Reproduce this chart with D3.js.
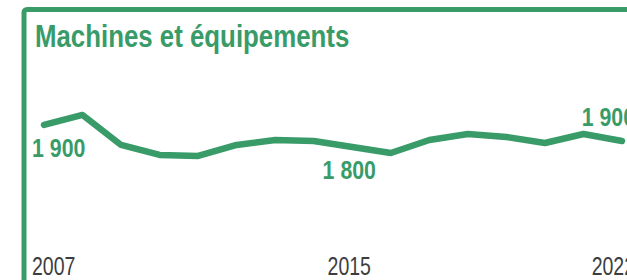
<!DOCTYPE html>
<html>
<head>
<meta charset="utf-8">
<script src="https://cdn.jsdelivr.net/npm/d3@7"></script>
<style>
  body { margin: 0; background: #fff; }
  svg { display: block; }
</style>
</head>
<body>
<svg id="chart" width="627" height="280"></svg>
<script>
// values (employment, approx.)
var years = [2007, 2008, 2009, 2010, 2011, 2012, 2013, 2014, 2015, 2016, 2017, 2018, 2019, 2020, 2021, 2022];
var values = [1903, 1933, 1843, 1813, 1810, 1843, 1858, 1855, 1837, 1819, 1858, 1876, 1867, 1849, 1876, 1855];

// years that get a tick label and a value label
var labelYears = [2007, 2015, 2022];
var labelAnchors = ["start", "middle", "end"];

var title = "Machines et équipements";
var green = "#389b68";
var narrow = 0.82; // no narrow font installed, squeeze Liberation Sans instead

var svg = d3.select("#chart");

// frame (only top and left edges show, rest is cropped)
svg.append("rect")
    .attr("x", 24).attr("y", 9.5)
    .attr("width", 800).attr("height", 400)
    .attr("rx", 3)
    .attr("fill", "none")
    .attr("stroke", green)
    .attr("stroke-width", 5);

svg.append("text")
    .attr("transform", "translate(35,47) scale(" + narrow + ",1)")
    .attr("fill", green)
    .style("font-family", "'Liberation Sans', Arial, sans-serif")
    .style("font-weight", "bold")
    .style("font-size", "31.5px")
    .text(title);

var x = d3.scaleLinear()
    .domain([2007, 2022])
    .range([44, 622]);

var y = d3.scaleLinear()
    .domain([1800, 1950])
    .range([159.3, 109.3]);

var line = d3.line()
    .x(function(d, i){ return x(years[i]); })
    .y(function(d){ return y(d); });

svg.append("path")
    .datum(values)
    .attr("d", line)
    .attr("fill", "none")
    .attr("stroke", green)
    .attr("stroke-width", 6.5)
    .attr("stroke-linecap", "round")
    .attr("stroke-linejoin", "round");

// shift labels so first is left aligned, last right aligned
function labelX(yr, i){
    if (labelAnchors[i] == "start") return x(yr) - 12;
    if (labelAnchors[i] == "end") return x(yr) + 13;
    return x(yr) - 3;
}

var fr = d3.formatLocale({decimal: ",", thousands: " ", grouping: [3], currency: ["", " €"]});
var fmt = fr.format(",");

// value labels, rounded to the hundred
svg.append("g").selectAll("text")
    .data(labelYears)
    .enter().append("text")
    .attr("transform", function(d, i){
        var v = values[years.indexOf(d)];
        var ty = i == 2 ? y(v) - 15 : y(v) + 32;
        return "translate(" + labelX(d, i) + "," + ty + ") scale(" + narrow + ",1)";
    })
    .attr("text-anchor", function(d, i){ return labelAnchors[i]; })
    .attr("fill", green)
    .style("font-family", "'Liberation Sans', Arial, sans-serif")
    .style("font-weight", "bold")
    .style("font-size", "26px")
    .text(function(d){
        var v = values[years.indexOf(d)];
        return fmt(Math.round(v / 100) * 100);
    });

// year tick labels
svg.append("g").selectAll("text")
    .data(labelYears)
    .enter().append("text")
    .attr("transform", function(d, i){
        return "translate(" + labelX(d, i) + ",275) scale(0.78,1)";
    })
    .attr("text-anchor", function(d, i){ return labelAnchors[i]; })
    .attr("fill", "#3d3d3d")
    .style("font-family", "'Liberation Sans', Arial, sans-serif")
    .style("font-size", "25px")
    .text(function(d){ return d; });
</script>
</body>
</html>
